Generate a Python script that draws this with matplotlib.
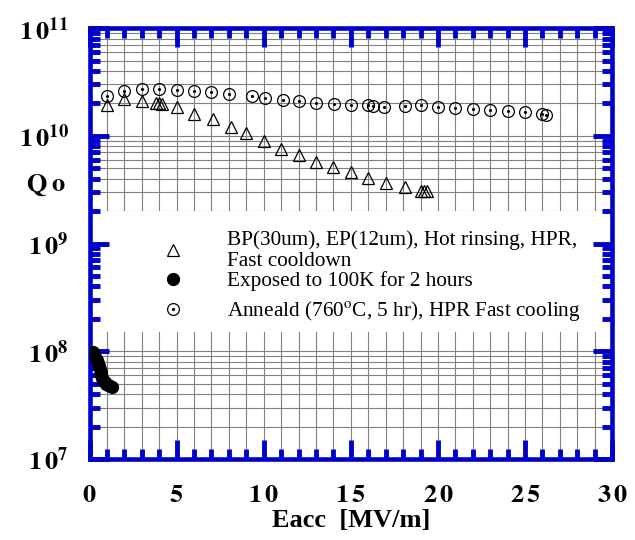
import numpy as np
import matplotlib
matplotlib.use("Agg")
import matplotlib.pyplot as plt
from matplotlib.ticker import MultipleLocator, LogLocator, NullFormatter

plt.rcParams['mathtext.fontset'] = 'stix'
plt.rcParams['font.family'] = 'Liberation Serif'

# --- data (Eacc in MV/m, Qo) ---
bp_eacc = [1.0, 2.0, 3.0, 3.8, 4.0, 4.15, 5.0, 6.0, 7.1, 8.1, 9.0, 10.0,
           11.0, 12.0, 13.0, 14.0, 15.0, 16.0, 17.0, 18.1, 19.0, 19.2, 19.35]
bp_q = [1.94e10, 2.18e10, 2.11e10, 2.0e10, 2.02e10, 1.98e10, 1.84e10,
        1.59e10, 1.42e10, 1.22e10, 1.07e10, 8.9e9, 7.6e9, 6.6e9, 5.7e9,
        5.1e9, 4.6e9, 4.08e9, 3.67e9, 3.32e9, 3.1e9, 3.08e9, 3.05e9]

exp_eacc = [0.20, 0.27, 0.34, 0.41, 0.47, 0.53, 0.58, 0.63, 0.68, 0.74,
            0.80, 0.87, 0.95, 1.05, 1.16, 1.27]
exp_q = [9.8e7, 9.3e7, 8.8e7, 8.3e7, 7.8e7, 7.3e7, 6.9e7, 6.4e7, 6.0e7,
         5.7e7, 5.4e7, 5.15e7, 5.0e7, 4.85e7, 4.75e7, 4.7e7]

ann_eacc = [1.0, 2.0, 3.0, 4.0, 5.0, 6.0, 7.0, 8.0, 9.3, 10.05, 11.1, 12.0,
            13.0, 14.05, 15.0, 16.0, 16.25, 16.9, 18.1, 19.05, 20.0, 21.0,
            22.0, 23.0, 24.0, 25.0, 26.0, 26.2]
ann_q = [2.35e10, 2.62e10, 2.72e10, 2.72e10, 2.67e10, 2.63e10, 2.53e10,
         2.43e10, 2.36e10, 2.26e10, 2.13e10, 2.09e10, 2.0e10, 1.97e10,
         1.92e10, 1.92e10, 1.91e10, 1.86e10, 1.89e10, 1.92e10, 1.84e10,
         1.80e10, 1.77e10, 1.75e10, 1.70e10, 1.65e10, 1.59e10, 1.55e10]

labels = ["BP(30um), EP(12um), Hot rinsing, HPR,\nFast cooldown",
          "Exposed to 100K for 2 hours",
          r"Anneald (760$^\mathrm{o}$C, 5 hr), HPR Fast cooling"]

x_ticks = [0, 5, 10, 15, 20, 25, 30]
x_ticklabels = [r'$\mathbf{0}$', r'$\mathbf{5}$', r'$\mathbf{1\,0}$',
                r'$\mathbf{1\,5}$', r'$\mathbf{2\,0}$', r'$\mathbf{2\,5}$',
                r'$\mathbf{3\,0}$']
y_ticks = [1e7, 1e8, 1e9, 1e10, 1e11]
y_ticklabels = [r'$\mathbf{1\,0^{7}}$', r'$\mathbf{1\,0^{8}}$',
                r'$\mathbf{1\,0^{9}}$', r'$\mathbf{1\,0^{10}}$',
                r'$\mathbf{1\,0^{11}}$']

blue = '#0000cc'

fig = plt.figure(figsize=(6.35, 5.4), dpi=100)
ax = fig.add_axes([0.141, 0.15, 0.823, 0.798])
ax.set_yscale('log')
ax.set_xlim(0, 30)
ax.set_ylim(1e7, 1e11)

# grid drawn by hand so the white legend box can cover it but not the ticks
for x in range(1, 30):
    ax.axvline(x, color='#808080', lw=0.8, zorder=0.5)
for dec in [1e7, 1e8, 1e9, 1e10]:
    for m in range(1, 10):
        ax.axhline(m * dec, color='#808080', lw=0.8, zorder=0.5)
ax.axhspan(1.5e8, 2e9, color='white', lw=0, zorder=1)

h_bp, = ax.plot(bp_eacc, bp_q, ls='none', marker='^', ms=8.5, mfc='none',
                mec='black', mew=0.9, zorder=3)
h_exp, = ax.plot(exp_eacc, exp_q, ls='none', marker='o', ms=8.5,
                 color='black', zorder=3)
h_ring, = ax.plot(ann_eacc, ann_q, ls='none', marker='o', ms=8.5, mfc='none',
                  mec='black', mew=0.9, zorder=3)
h_dot, = ax.plot(ann_eacc, ann_q, ls='none', marker='.', ms=2.5,
                 color='black', zorder=3)

ax.set_xticks(x_ticks)
ax.set_xticklabels(x_ticklabels)
ax.set_yticks(y_ticks)
ax.set_yticklabels(y_ticklabels)
ax.xaxis.set_minor_locator(MultipleLocator(1))
ax.yaxis.set_minor_locator(LogLocator(base=10, subs=range(2, 10)))
ax.yaxis.set_minor_formatter(NullFormatter())

ax.tick_params(which='both', direction='in', top=True, right=True,
               color=blue, width=3.5)
ax.tick_params(which='major', length=13.5)
ax.tick_params(which='minor', length=7.5)
ax.tick_params(axis='x', which='major', pad=19, labelsize=19)
ax.tick_params(axis='y', which='major', pad=15, labelsize=19)
for s in ax.spines.values():
    s.set_color(blue)
    s.set_linewidth(3.3)

ax.set_xlabel("Eacc  [MV/m]", fontsize=19, fontweight='bold', labelpad=1)
ax.text(-0.083, 0.635, r'$\mathbf{Q\;o}$', transform=ax.transAxes,
        fontsize=19, ha='center', va='center')

# legend in two pieces: the last row sits a little further down
leg_opts = dict(loc='upper left', frameon=False, fontsize=15.3,
                handlelength=1.0, handletextpad=2.05, borderpad=0,
                borderaxespad=0, numpoints=1)
leg1 = ax.legend([h_bp, h_exp], labels[:2], bbox_to_anchor=(0.139, 0.531),
                 labelspacing=0.0, **leg_opts)
for t in leg1.get_texts():
    t.set_linespacing(1.17)
ax.add_artist(leg1)
ax.legend([(h_ring, h_dot)], labels[2:], bbox_to_anchor=(0.139, 0.371),
          **leg_opts)

fig.savefig("out.png", dpi=100)
